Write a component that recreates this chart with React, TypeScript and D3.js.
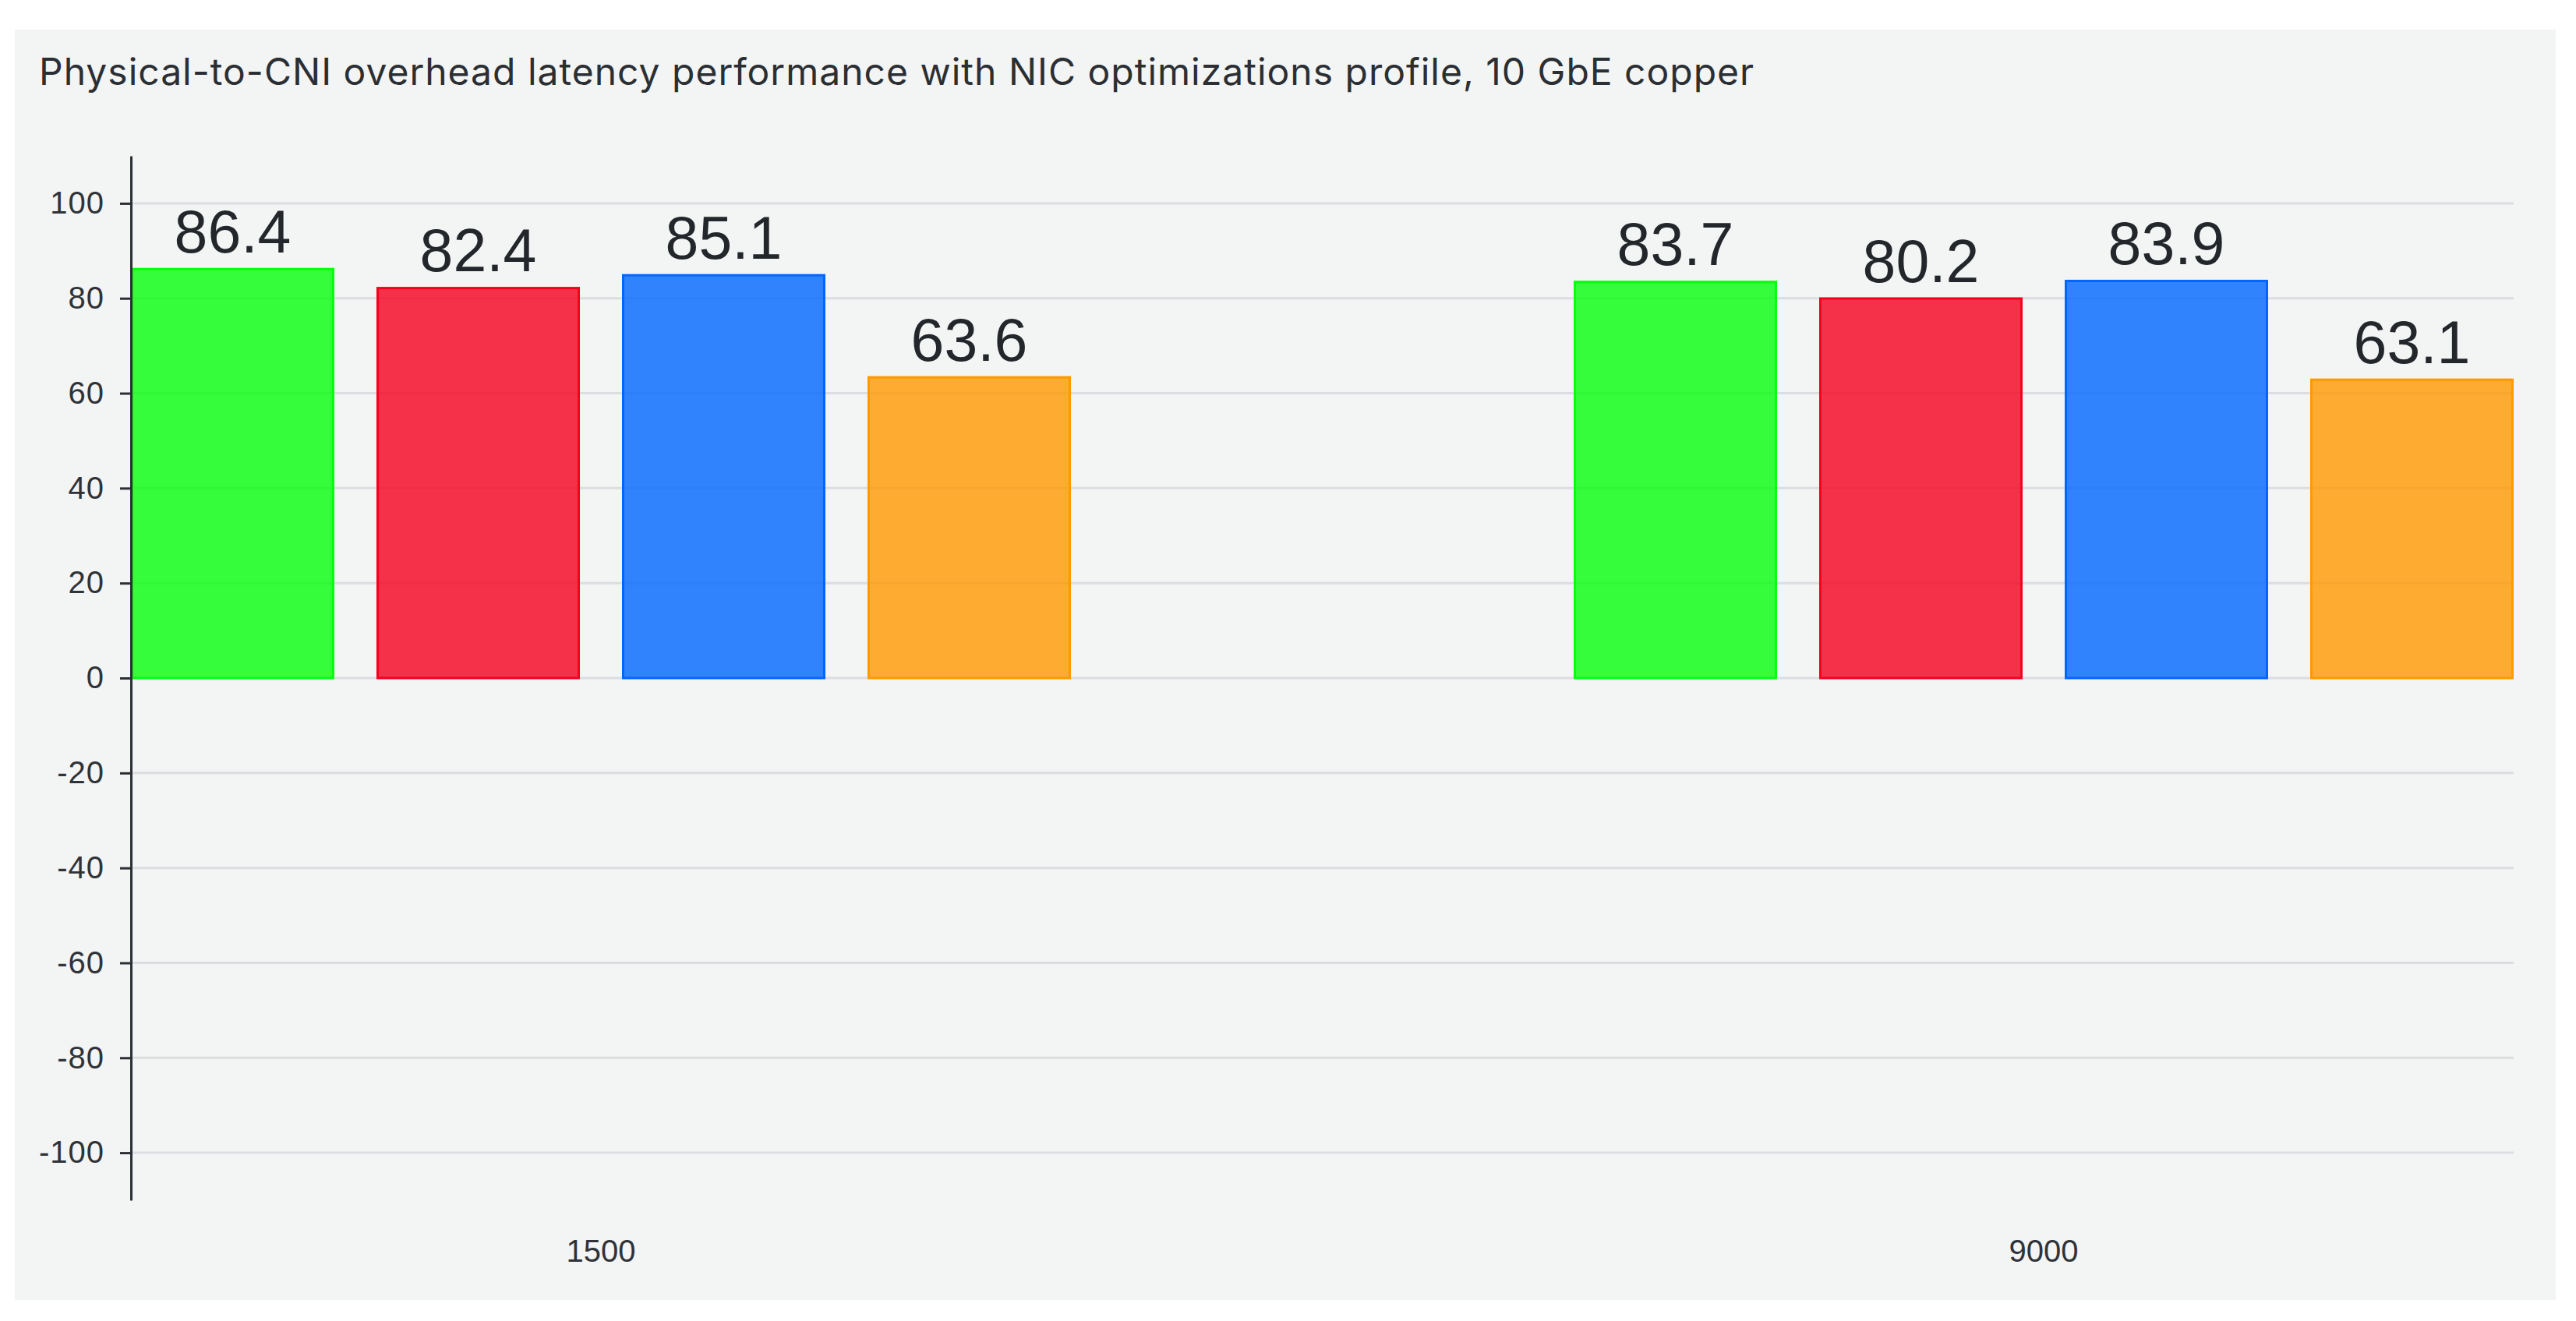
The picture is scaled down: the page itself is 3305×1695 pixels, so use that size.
import React, { useEffect, useRef } from "react";
import * as d3 from "d3";

const categories = ["1500", "9000"];
const greenValues = [86.4, 83.7];
const redValues = [82.4, 80.2];
const blueValues = [85.1, 83.9];
const orangeValues = [63.6, 63.1];
const seriesColors = ["#05ff0e", "#f5001f", "#0066ff", "#ff9900"];
const yTicks = [-100, -80, -60, -40, -20, 0, 20, 40, 60, 80, 100];
const title =
  "Physical-to-CNI overhead latency performance with NIC optimizations profile, 10 GbE copper";

const W = 3305;
const H = 1695;

export default function App() {
  const ref = useRef<SVGSVGElement>(null);

  useEffect(() => {
    const svg = d3.select(ref.current);
    svg.selectAll("*").remove();

    const series = [greenValues, redValues, blueValues, orangeValues];
    const left = 168,
      right = 3225,
      top = 200,
      bottom = 1540;
    const barW = 261,
      gap = 54;
    const groupW = series.length * barW + (series.length - 1) * gap;

    svg
      .append("rect")
      .attr("x", 19)
      .attr("y", 38)
      .attr("width", 3279 - 19)
      .attr("height", 1668 - 38)
      .attr("fill", "#f3f4f4");

    svg
      .append("text")
      .attr("x", 50)
      .attr("y", 109)
      .attr("font-family", "Inter, 'Noto Sans', sans-serif")
      .attr("font-size", 48)
      .attr("letter-spacing", 1)
      .attr("fill", "#2b2f33")
      .text(title);

    const y = d3.scaleLinear().domain([-110, 110]).range([bottom, top]);
    const x0 = d3
      .scalePoint<string>()
      .domain(categories)
      .range([left + groupW / 2, right - groupW / 2]);
    const x1 = d3
      .scaleBand<number>()
      .domain(d3.range(series.length))
      .range([-groupW / 2, groupW / 2])
      .paddingInner(gap / (barW + gap))
      .paddingOuter(0);

    // gridlines
    svg
      .append("g")
      .selectAll("line")
      .data(yTicks)
      .join("line")
      .attr("x1", left)
      .attr("x2", right)
      .attr("y1", (d) => y(d))
      .attr("y2", (d) => y(d))
      .attr("stroke", "#dcdde0")
      .attr("stroke-width", 3);

    // bars
    const g = svg.append("g");
    series.forEach((vals, si) => {
      categories.forEach((cat, ci) => {
        const v = vals[ci];
        const bx = (x0(cat) as number) + (x1(si) as number);
        const bw = x1.bandwidth();
        g.append("rect")
          .attr("x", bx + 1.5)
          .attr("y", y(v) + 1.5)
          .attr("width", bw - 3)
          .attr("height", y(0) - y(v) - 1.5)
          .attr("fill", seriesColors[si])
          .attr("fill-opacity", 0.8)
          .attr("stroke", seriesColors[si])
          .attr("stroke-width", 3);
        g.append("text")
          .attr("x", bx + bw / 2)
          .attr("y", y(v) - 20)
          .attr("text-anchor", "middle")
          .attr("font-family", "'Liberation Sans', Arial, sans-serif")
          .attr("font-size", 77)
          .attr("fill", "#23272b")
          .text(v.toFixed(1));
      });
    });

    // y axis
    const yAxis = d3
      .axisLeft(y)
      .tickValues(yTicks)
      .tickSize(14)
      .tickPadding(20)
      .tickSizeOuter(0)
      .tickFormat((d) => String(d));
    const ya = svg.append("g").attr("transform", `translate(${left},0)`).call(yAxis);
    ya.select(".domain").attr("stroke", "#2b2f33").attr("stroke-width", 3);
    ya.selectAll(".tick line").attr("stroke", "#2b2f33").attr("stroke-width", 3);
    ya.selectAll(".tick text")
      .attr("font-family", "'Liberation Sans', Arial, sans-serif")
      .attr("font-size", 40)
      .attr("letter-spacing", 1)
      .attr("fill", "#2f3338");

    // x labels
    svg
      .append("g")
      .selectAll("text")
      .data(categories)
      .join("text")
      .attr("x", (d) => x0(d) as number)
      .attr("y", 1619)
      .attr("text-anchor", "middle")
      .attr("font-family", "'Liberation Sans', Arial, sans-serif")
      .attr("font-size", 40)
      .attr("fill", "#2f3338")
      .text((d) => d);
  }, []);

  return (
    <div style={{ position: "absolute", left: 0, top: 0, background: "#fff" }}>
      <svg ref={ref} width={W} height={H} style={{ display: "block" }} />
    </div>
  );
}
